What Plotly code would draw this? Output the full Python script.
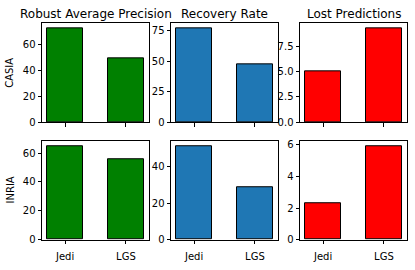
import plotly.graph_objects as go

methods = ["Jedi", "LGS"]
datasets = ["CASIA", "INRIA"]
metrics = ["Robust Average Precision", "Recovery Rate", "Lost Predictions"]
casia_values = [[72.6, 49.3], [77.3, 47.9], [5.05, 9.3]]
inria_values = [[64.9, 56.0], [51.2, 28.8], [2.33, 5.93]]
colors = ["green", "#1f77b4", "red"]
casia_dticks = [20, 25, 2.5]
inria_dticks = [20, 20, 2]

W, H = 415, 270
xcols = [(42, 149), (171, 278), (300, 407)]
yrows = [(22, 124), (143.5, 245)]

fig = go.Figure()
font = dict(family="DejaVu Sans", size=10, color="black")

rows = [casia_values, inria_values]
dticks = [casia_dticks, inria_dticks]
k = 0
for r in range(2):
    for c in range(3):
        k += 1
        xa = "x" if k == 1 else f"x{k}"
        ya = "y" if k == 1 else f"y{k}"
        vals = rows[r][c]
        fig.add_trace(go.Bar(
            x=methods, y=vals, width=0.6,
            marker=dict(color=colors[c], line=dict(color="black", width=1)),
            xaxis=xa, yaxis=ya, showlegend=False, hoverinfo="skip",
        ))
        x0, x1 = xcols[c]
        y0, y1 = yrows[r]
        axcommon = dict(showline=True, linecolor="black", linewidth=1, mirror=True,
                        ticks="outside", ticklen=3.5, tickwidth=1, tickcolor="black",
                        showgrid=False, zeroline=False, tickfont=font)
        fig.layout[f"xaxis{'' if k == 1 else k}"] = dict(
            domain=[x0 / W, x1 / W], anchor=ya, range=[-0.38, 1.38],
            showticklabels=(r == 1), ticklabelstandoff=4, **axcommon)
        fig.layout[f"yaxis{'' if k == 1 else k}"] = dict(
            domain=[1 - y1 / H, 1 - y0 / H], anchor=xa,
            range=[0, max(vals) * 1.05], dtick=dticks[r][c], tick0=0,
            tickformat=".1f" if c == 2 and r == 0 else "d", **axcommon)

for c in range(3):
    x0, x1 = xcols[c]
    fig.add_annotation(text=metrics[c], x=(x0 + x1) / 2 / W, y=1 - 12 / H,
                       xref="paper", yref="paper", showarrow=False,
                       xanchor="center", yanchor="middle",
                       font=dict(family="DejaVu Sans", size=12, color="black"))
for r in range(2):
    y0, y1 = yrows[r]
    fig.add_annotation(text=datasets[r], x=10 / W, y=1 - (y0 + y1) / 2 / H,
                       xref="paper", yref="paper", showarrow=False, textangle=-90,
                       xanchor="center", yanchor="middle",
                       font=dict(family="DejaVu Sans", size=10, color="black"))

fig.update_layout(width=W, height=H, margin=dict(l=0, r=0, t=0, b=0),
                  paper_bgcolor="white", plot_bgcolor="white", bargap=0)
fig.write_html("out.html", config={"displayModeBar": False},
               post_script="document.body.style.margin='0';document.body.style.overflow='hidden';")
